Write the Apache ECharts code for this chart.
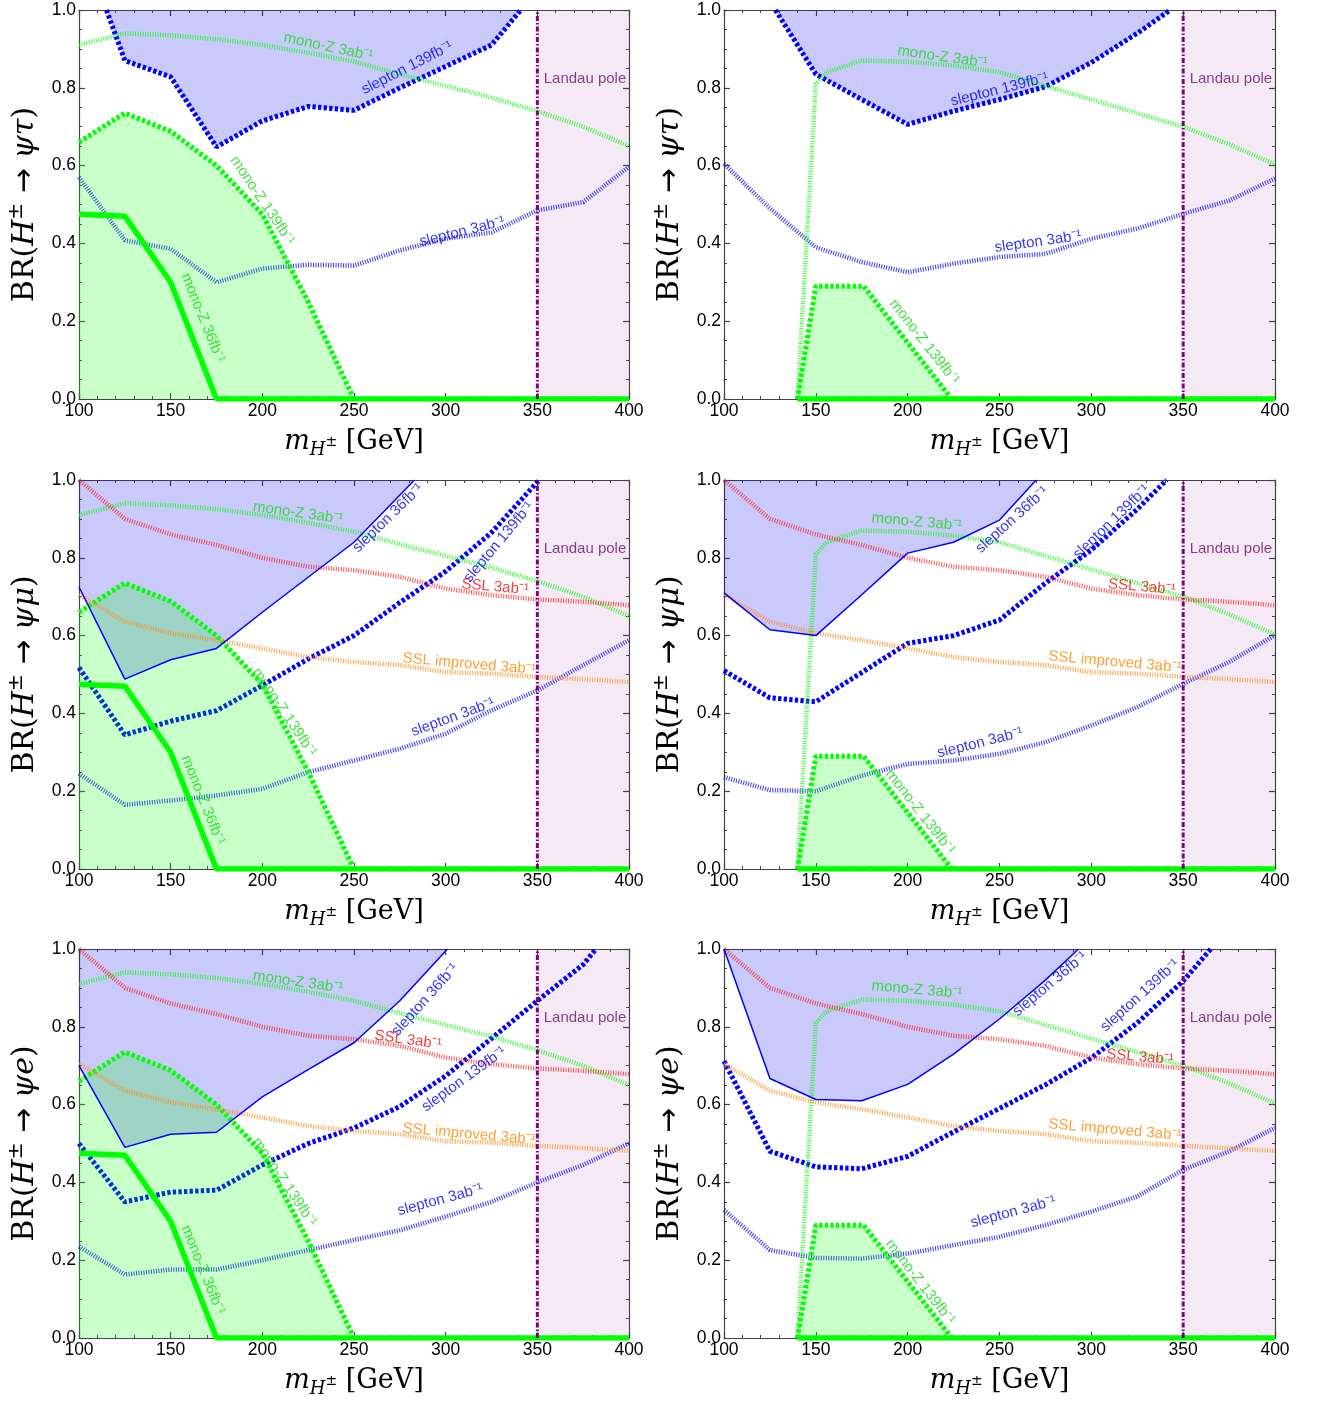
<!DOCTYPE html>
<html><head><meta charset="utf-8">
<script src="https://cdn.jsdelivr.net/npm/echarts@6/dist/echarts.min.js"></script>
<style>html,body{margin:0;padding:0;background:#fff}#c{width:1317px;height:1405px}</style>
</head><body><div id="c"></div>
<script>
// ---------------- data ----------------
const X = [100,125,150,175,200,225,250,275,300,325,350,375,400];

// common curves
const monoZ3ab_L = [0.91,0.94,0.935,0.925,0.91,0.89,0.867,0.835,0.805,0.775,0.74,0.70,0.65];
const monoZ3ab_R = [[140,0],[150,0.81],[156,0.84],[175,0.87],[200,0.867],[225,0.857],[250,0.84],[275,0.805],[300,0.77],[325,0.735],[350,0.70],[375,0.655],[400,0.603]];
const monoZ139_L = [[100,0.66],[125,0.735],[150,0.688],[175,0.60],[200,0.475],[225,0.25],[250,0]];
const monoZ139_R = [[140,0],[150,0.29],[176,0.29],[224,0]];
const monoZ36_L  = [[100,0.475],[125,0.47],[150,0.30],[175,0],[400,0]];
const monoZ36_R  = [[140,0],[400,0]];
const ssl3ab      = [1.0,0.90,0.86,0.833,0.80,0.777,0.768,0.751,0.721,0.704,0.693,0.687,0.678];
const sslImproved = [0.705,0.636,0.606,0.588,0.567,0.545,0.532,0.524,0.506,0.502,0.494,0.488,0.481];
const landauX = [350, 400];

// panel 1 : psi tau (left)
const p1_slepton139 = [[115,1.0],[125,0.87],[150,0.828],[175,0.648],[200,0.715],[225,0.752],[250,0.742],[275,0.80],[300,0.855],[325,0.91],[341,1.0]];
const p1_slepton3ab = [0.57,0.408,0.386,0.30,0.335,0.345,0.343,0.382,0.412,0.428,0.485,0.506,0.597];
// panel 2 : psi tau (right)
const p2_slepton139 = [[128,1.0],[150,0.835],[175,0.77],[200,0.706],[225,0.74],[250,0.77],[275,0.803],[300,0.865],[325,0.94],[343,1.0]];
const p2_slepton3ab = [0.605,0.49,0.39,0.352,0.326,0.348,0.365,0.373,0.412,0.438,0.476,0.51,0.567];
// panel 3 : psi mu (left)
const p3_slepton36  = [[100,0.725],[125,0.488],[150,0.538],[175,0.567],[200,0.66],[225,0.75],[250,0.84],[283,1.0]];
const p3_slepton139 = [[100,0.518],[125,0.345],[150,0.38],[175,0.407],[200,0.472],[225,0.54],[250,0.60],[275,0.685],[300,0.765],[325,0.865],[351,1.0]];
const p3_slepton3ab = [0.245,0.165,0.176,0.189,0.206,0.249,0.279,0.309,0.348,0.408,0.459,0.524,0.588];
// panel 4 : psi mu (right)
const p4_slepton36  = [[100,0.71],[125,0.615],[150,0.60],[175,0.705],[200,0.812],[225,0.84],[250,0.897],[270,1.0]];
const p4_slepton139 = [[100,0.51],[125,0.44],[150,0.43],[175,0.505],[200,0.58],[225,0.60],[250,0.64],[275,0.735],[300,0.82],[325,0.925],[341,1.0]];
const p4_slepton3ab = [0.236,0.203,0.20,0.24,0.27,0.279,0.296,0.326,0.369,0.416,0.476,0.532,0.601];
// panel 5 : psi e (left)
const p5_slepton36  = [[100,0.70],[125,0.49],[150,0.524],[175,0.529],[200,0.62],[225,0.69],[250,0.759],[275,0.867],[301,1.0]];
const p5_slepton139 = [[100,0.50],[125,0.35],[150,0.375],[175,0.38],[200,0.445],[225,0.50],[250,0.54],[275,0.595],[300,0.674],[325,0.77],[350,0.867],[375,0.96],[382,1.0]];
const p5_slepton3ab = [0.235,0.163,0.176,0.176,0.20,0.226,0.252,0.277,0.312,0.35,0.40,0.445,0.50];
// panel 6 : psi e (right)
const p6_slepton36  = [[100,1.0],[125,0.667],[150,0.613],[175,0.61],[200,0.652],[225,0.73],[250,0.82],[275,0.92],[293,1.0]];
const p6_slepton139 = [[100,0.712],[125,0.48],[150,0.44],[175,0.435],[200,0.467],[225,0.53],[250,0.59],[275,0.651],[300,0.72],[325,0.81],[350,0.918],[365,1.0]];
const p6_slepton3ab = [0.329,0.226,0.206,0.204,0.217,0.239,0.26,0.29,0.325,0.364,0.432,0.48,0.54];

// tick labels / axis titles
const xTicks = [100,150,200,250,300,350,400];
const yTicks = [0.0,0.2,0.4,0.6,0.8,1.0];
const channels = ['ψτ','ψτ','ψμ','ψμ','ψe','ψe'];

// annotations: [x, y, text, rotation, colour key]
const ann1 = [[236,0.905,'mono-Z 3ab⁻¹',-12,'g'],[279,0.851,'slepton 139fb⁻¹',27,'b'],[200,0.51,'mono-Z 139fb⁻¹',-56,'g'],[167.6,0.208,'mono-Z 36fb⁻¹',-68,'g'],[309,0.43,'slepton 3ab⁻¹',14,'b']];
const ann2 = [[219,0.879,'mono-Z 3ab⁻¹',-8,'g'],[250,0.795,'slepton 139fb⁻¹',14,'b'],[271,0.404,'slepton 3ab⁻¹',8,'b'],[209,0.147,'mono-Z 139fb⁻¹',-52,'g']];
const ann3 = [[219.5,0.915,'mono-Z 3ab⁻¹',-8,'g'],[268.6,0.902,'slepton 36fb⁻¹',44,'b'],[329,0.84,'slepton 139fb⁻¹',50,'b'],[327,0.725,'SSL 3ab⁻¹',-5,'r'],[312.8,0.527,'SSL improved 3ab⁻¹',-5,'o'],[304,0.39,'slepton 3ab⁻¹',20,'b'],[212,0.403,'mono-Z 139fb⁻¹',-56,'g'],[167.6,0.177,'mono-Z 36fb⁻¹',-68,'g']];
const ann4 = [[205,0.892,'mono-Z 3ab⁻¹',-5,'g'],[256.8,0.897,'slepton 36fb⁻¹',42,'b'],[311,0.892,'slepton 139fb⁻¹',44,'b'],[327.5,0.725,'SSL 3ab⁻¹',-5,'r'],[312.8,0.532,'SSL improved 3ab⁻¹',-5,'o'],[239.4,0.324,'slepton 3ab⁻¹',14,'b'],[206.7,0.147,'mono-Z 139fb⁻¹',-52,'g']];
const ann5 = [[219.5,0.915,'mono-Z 3ab⁻¹',-8,'g'],[288.8,0.869,'slepton 36fb⁻¹',48,'b'],[279.5,0.766,'SSL 3ab⁻¹',-8,'r'],[310,0.665,'slepton 139fb⁻¹',36,'b'],[312.8,0.524,'SSL improved 3ab⁻¹',-5,'o'],[297,0.355,'slepton 3ab⁻¹',15,'b'],[212,0.401,'mono-Z 139fb⁻¹',-56,'g'],[167.6,0.175,'mono-Z 36fb⁻¹',-68,'g']];
const ann6 = [[205,0.895,'mono-Z 3ab⁻¹',-5,'g'],[277.5,0.91,'slepton 36fb⁻¹',40,'b'],[326.5,0.88,'slepton 139fb⁻¹',42,'b'],[326.5,0.722,'SSL 3ab⁻¹',-5,'r'],[312.8,0.535,'SSL improved 3ab⁻¹',-5,'o'],[257.4,0.324,'slepton 3ab⁻¹',15,'b'],[206.7,0.144,'mono-Z 139fb⁻¹',-52,'g']];
const landauLabel = [376, 0.823, 'Landau pole'];

const panels = [
  {side:'L', fill:p1_slepton139, thinEdge:null,          s139:p1_slepton139, s3:p1_slepton3ab, ssl:false, ann:ann1},
  {side:'R', fill:p2_slepton139, thinEdge:null,          s139:p2_slepton139, s3:p2_slepton3ab, ssl:false, ann:ann2},
  {side:'L', fill:p3_slepton36,  thinEdge:p3_slepton36,  s139:p3_slepton139, s3:p3_slepton3ab, ssl:true,  ann:ann3},
  {side:'R', fill:p4_slepton36,  thinEdge:p4_slepton36,  s139:p4_slepton139, s3:p4_slepton3ab, ssl:true,  ann:ann4},
  {side:'L', fill:p5_slepton36,  thinEdge:p5_slepton36,  s139:p5_slepton139, s3:p5_slepton3ab, ssl:true,  ann:ann5},
  {side:'R', fill:p6_slepton36,  thinEdge:p6_slepton36,  s139:p6_slepton139, s3:p6_slepton3ab, ssl:true,  ann:ann6}
];

// ---------------- styling ----------------
const SANS = "'Liberation Sans', Arial, sans-serif";
const SERIF = "'DejaVu Serif', 'Liberation Serif', serif";
const C = {g:'#00ff00', b:'#0000ff', r:'#ff1a1a', o:'#ff8c1a', p:'#800080'};
const TXT = {g:'#14dc14', b:'#0000f0', r:'#f01010', o:'#ff8800', p:'#6a106a'};
const pair = ys => ys.map((y,i) => [X[i], y]);
const DOT = [1, 1.5], DASH = [3.3, 2.3];

const grids = [], xAxes = [], yAxes = [], series = [];
const LEFT = [79, 724], WIDTH = [550, 551], TOP = [10, 480, 949], HEIGHT = 389;
const frame = {color:'#444', width:1.2};

panels.forEach((p, g) => {
  const col = g % 2, row = Math.floor(g / 2);
  grids.push({left:LEFT[col], top:TOP[row], width:WIDTH[col], height:HEIGHT});
  const xc = {type:'value', gridIndex:g, min:100, max:400, interval:50,
    axisLine:{show:true, onZero:false, lineStyle:frame},
    axisTick:{show:true, inside:true, length:6, lineStyle:frame},
    minorTick:{show:true, splitNumber:5, length:3, lineStyle:{color:'#444', width:1}},
    splitLine:{show:false}, minorSplitLine:{show:false}};
  xAxes.push(Object.assign({}, xc, {position:'bottom',
    axisLabel:{show:true, margin:3, fontFamily:SANS, fontSize:17.5, color:'#000',
      formatter: v => xTicks.includes(v) ? String(v) : ''},
    name:'{m|m}{s|H}{ss|±}{t| [GeV]}', nameLocation:'middle', nameGap:26,
    nameTextStyle:{rich:{
      m:{fontFamily:SERIF, fontStyle:'italic', fontSize:27, lineHeight:34, color:'#000'},
      s:{fontFamily:SERIF, fontStyle:'italic', fontSize:18, lineHeight:18, verticalAlign:'bottom', color:'#000'},
      ss:{fontFamily:SERIF, fontSize:14, lineHeight:14, verticalAlign:'middle', color:'#000'},
      t:{fontFamily:SERIF, fontSize:27, lineHeight:34, color:'#000'}}}}));
  xAxes.push(Object.assign({}, xc, {position:'top', axisLabel:{show:false}}));
  const yc = {type:'value', gridIndex:g, min:0, max:1, interval:0.2,
    axisLine:{show:true, onZero:false, lineStyle:frame},
    axisTick:{show:true, inside:true, length:6, lineStyle:frame},
    minorTick:{show:true, splitNumber:4, length:3, lineStyle:{color:'#444', width:1}},
    splitLine:{show:false}, minorSplitLine:{show:false}};
  yAxes.push(Object.assign({}, yc, {position:'left',
    axisLabel:{show:true, margin:3, fontFamily:SANS, fontSize:17.5, color:'#000',
      formatter: v => { const t = yTicks.find(q => Math.abs(q - v) < 1e-6); return t === undefined ? '' : t.toFixed(1); }},
    name:'{t|BR(}{i|H}{sup|±}{a| → }{i|' + channels[g] + '}{t|)}', nameLocation:'middle', nameRotate:90, nameGap:36,
    nameTextStyle:{rich:{
      t:{fontFamily:SERIF, fontSize:30, lineHeight:36, color:'#000'},
      a:{fontFamily:"'DejaVu Sans', sans-serif", fontSize:30, lineHeight:36, color:'#000'},
      i:{fontFamily:SERIF, fontStyle:'italic', fontSize:30, lineHeight:36, color:'#000'},
      sup:{fontFamily:SERIF, fontSize:20, lineHeight:20, verticalAlign:'top', color:'#000'}}}}));
  yAxes.push(Object.assign({}, yc, {position:'right', axisLabel:{show:false}}));

  const xi = 2 * g, yi = 2 * g;
  const base = {type:'line', xAxisIndex:xi, yAxisIndex:yi, showSymbol:false, symbol:'none', silent:true, animation:false};

  // Landau pole shading
  series.push(Object.assign({}, base, {z:1, data:landauX.map(x => [x, 1]),
    lineStyle:{opacity:0}, areaStyle:{color:'rgba(128,0,128,0.12)', origin:'start'}}));
  // blue excluded region
  series.push(Object.assign({}, base, {z:2, data:p.fill,
    lineStyle:{opacity:0}, areaStyle:{color:'rgba(0,0,235,0.3)', origin:'end'}}));
  // slepton 139 (thick dashed) and slepton 3ab (dotted)
  series.push(Object.assign({}, base, {z:3, data:p.s139, lineStyle:{color:C.b, width:5, type:DASH}}));
  series.push(Object.assign({}, base, {z:3, data:pair(p.s3), lineStyle:{color:C.b, width:4.5, type:DOT, opacity:0.8}}));
  // green excluded region
  const mz139 = p.side === 'L' ? monoZ139_L : monoZ139_R;
  series.push(Object.assign({}, base, {z:4, data:mz139,
    lineStyle:{opacity:0}, areaStyle:{color:'rgba(0,255,0,0.3)', origin:'start'}}));
  // other curves
  series.push(Object.assign({}, base, {z:5, data:mz139, lineStyle:{color:C.g, width:5, type:DASH}}));
  series.push(Object.assign({}, base, {z:5, data:(p.side === 'L' ? monoZ36_L : monoZ36_R), lineStyle:{color:C.g, width:5.5, type:'solid'}}));
  series.push(Object.assign({}, base, {z:5, data:(p.side === 'L' ? pair(monoZ3ab_L) : monoZ3ab_R), lineStyle:{color:C.g, width:4.5, type:DOT, opacity:0.75}}));
  if (p.ssl) {
    series.push(Object.assign({}, base, {z:5, data:pair(ssl3ab), lineStyle:{color:C.r, width:4.5, type:DOT, opacity:0.75}}));
    series.push(Object.assign({}, base, {z:5, data:pair(sslImproved), lineStyle:{color:C.o, width:4.5, type:DOT, opacity:0.8}}));
  }
  if (p.thinEdge) {
    series.push(Object.assign({}, base, {z:5, data:p.thinEdge, lineStyle:{color:C.b, width:1.5, type:'solid'}}));
  }
  // Landau pole line
  series.push(Object.assign({}, base, {z:6, data:[[landauX[0],0],[landauX[0],1]],
    lineStyle:{color:C.p, width:3, type:[5,2,1.5,2]}}));
  // labels
  const labels = p.ann.map(a => ({value:[a[0], a[1]],
    label:{show:true, position:'inside', rotate:a[3], formatter:a[2], color:TXT[a[4]]}}));
  labels.push({value:[landauLabel[0], landauLabel[1]], label:{show:true, position:'inside', rotate:0, formatter:landauLabel[2], color:TXT.p}});
  series.push({type:'scatter', xAxisIndex:xi, yAxisIndex:yi, z:7, silent:true, animation:false,
    symbol:'circle', symbolSize:1, itemStyle:{color:'rgba(0,0,0,0)'}, data:labels,
    labelLayout:{hideOverlap:false},
    label:{show:true, position:'inside', fontFamily:SANS, fontSize:15}});
});

const chart = echarts.init(document.getElementById('c'), null, {renderer:'canvas'});
chart.setOption({backgroundColor:'#fff', animation:false, grid:grids, xAxis:xAxes, yAxis:yAxes, series:series});
</script>
</body></html>
